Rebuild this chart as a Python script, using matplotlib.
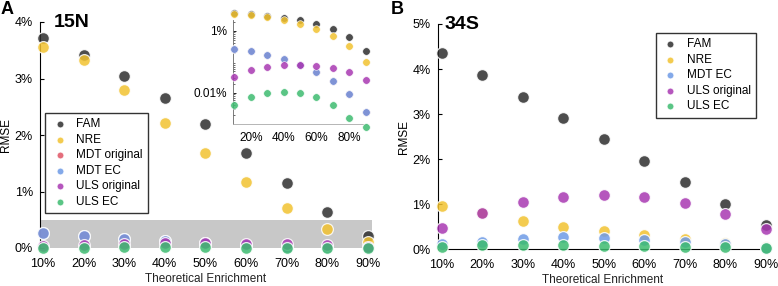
import numpy as np
import matplotlib
matplotlib.use("Agg")
import matplotlib.pyplot as plt
from matplotlib.ticker import FuncFormatter

plt.rcParams['font.family'] = ['Liberation Sans', 'DejaVu Sans']

enrich = [10, 20, 30, 40, 50, 60, 70, 80, 90]
xlabels = ['10%', '20%', '30%', '40%', '50%', '60%', '70%', '80%', '90%']

# Panel A: 15N (RMSE, %)
n_fam = [3.71, 3.42, 3.05, 2.65, 2.19, 1.68, 1.15, 0.64, 0.22]
n_nre = [3.56, 3.32, 2.79, 2.22, 1.68, 1.16, 0.70, 0.34, 0.10]
n_mdt_orig = [0.27, 0.22, 0.168, 0.122, 0.08, 0.047, 0.024, 0.0095, 0.0024]
n_mdt_ec = [0.27, 0.22, 0.168, 0.122, 0.08, 0.047, 0.024, 0.0095, 0.0024]
n_uls_orig = [0.033, 0.055, 0.071, 0.080, 0.080, 0.076, 0.064, 0.047, 0.026]
n_uls_ec = [0.0041, 0.0076, 0.0098, 0.0105, 0.0098, 0.0072, 0.0042, 0.0016, 0.0008]

# Panel B: 34S (RMSE, %)
s_fam = [4.35, 3.86, 3.39, 2.91, 2.45, 1.97, 1.49, 1.01, 0.54]
s_nre = [0.97, 0.80, 0.63, 0.50, 0.40, 0.31, 0.22, 0.13, 0.05]
s_mdt_ec = [0.12, 0.155, 0.235, 0.27, 0.25, 0.21, 0.16, 0.12, 0.03]
s_uls_orig = [0.47, 0.80, 1.04, 1.15, 1.20, 1.15, 1.02, 0.78, 0.46]
s_uls_ec = [0.06, 0.09, 0.095, 0.09, 0.08, 0.07, 0.06, 0.05, 0.02]

colors = {
    'FAM': '#2e2e2e',
    'NRE': '#f2c230',
    'MDT original': '#e05565',
    'MDT EC': '#6d9ae6',
    'ULS original': '#a838b2',
    'ULS EC': '#3dbb70',
}
ALPHA = 0.85

fig = plt.figure(figsize=(7.78, 2.86), dpi=100)

def pct(v, pos=None):
    return f"{v:.0f}%"

def style_axes(ax, ymax, xl):
    ax.spines['top'].set_visible(False)
    ax.spines['right'].set_visible(False)
    ax.set_xlim(*xl)
    ax.set_ylim(0, ymax)
    ax.set_xticks(enrich)
    ax.set_xticklabels(xlabels)
    ax.set_yticks(np.arange(0, ymax + 0.01, 1))
    ax.yaxis.set_major_formatter(FuncFormatter(pct))
    ax.tick_params(direction='in', length=3, width=0.8, labelsize=9, pad=5)
    ax.tick_params(axis='x', length=0, pad=7)
    ax.set_xlabel('Theoretical Enrichment', fontsize=8.5, labelpad=2.5, color='#222222')
    ax.set_ylabel('RMSE', fontsize=8.5, labelpad=2)

leg_kw = dict(fontsize=8.5, frameon=True, fancybox=False, edgecolor='black',
              markerscale=0.6, labelspacing=0.3, handletextpad=0.6, borderpad=0.45,
              handlelength=1.6, borderaxespad=0)

# ---------- Panel A ----------
axA = fig.add_axes([40/778, 1-248/286, 332/778, 226/286])
axA.axhspan(0, 0.5, color='#c8c8c8', zorder=0, lw=0)
seriesA = [('FAM', n_fam), ('NRE', n_nre), ('MDT original', n_mdt_orig),
           ('MDT EC', n_mdt_ec), ('ULS original', n_uls_orig), ('ULS EC', n_uls_ec)]
for name, vals in seriesA:
    axA.scatter(enrich, vals, s=72, color=colors[name], alpha=ALPHA,
                edgecolors='white', linewidths=0.9, label=name, clip_on=False, zorder=3)
style_axes(axA, 4, (9.26, 91.06))
axA.spines['bottom'].set_visible(False)
legA = axA.legend(loc='upper left', bbox_to_anchor=(5/332, 135/226), **leg_kw)
legA.get_frame().set_linewidth(1.0)
axA.text(0.04, 1.035, '15N', transform=axA.transAxes, fontsize=14, fontweight='bold',
         va='top', ha='left')

# inset (log scale)
axI = fig.add_axes([233/778, 1-124/286, 134/778, 104/286])
for name, vals in seriesA:
    axI.scatter(enrich, vals, s=30, color=colors[name], alpha=ALPHA,
                edgecolors='white', linewidths=0.5, clip_on=False, zorder=3)
axI.set_yscale('log')
axI.set_ylim(0.001, 2.26)
axI.set_xlim(9.2, 90.8)
axI.set_xticks([20, 40, 60, 80])
axI.set_xticklabels(['20%', '40%', '60%', '80%'])
axI.set_yticks([0.01, 1])
axI.set_yticklabels(['0.01%', '1%'])
axI.spines['top'].set_visible(False)
axI.spines['right'].set_visible(False)
axI.spines['left'].set_color('#666666')
axI.spines['bottom'].set_color('#aaaaaa')
axI.spines['left'].set_linewidth(0.6)
axI.spines['bottom'].set_linewidth(0.6)
axI.patch.set_alpha(0)
axI.tick_params(direction='in', length=2, width=0.6, labelsize=8.5, pad=4)
axI.tick_params(axis='x', length=0, pad=6)
axI.tick_params(which='minor', direction='in', length=1.2, width=0.4)

fig.text(1/778, 1-1/286, 'A', fontsize=13, fontweight='bold', va='top', ha='left')

# ---------- Panel B ----------
axB = fig.add_axes([437.7/778, 1-249.3/286, 330.3/778, 225.3/286])
seriesB = [('FAM', s_fam), ('NRE', s_nre), ('MDT EC', s_mdt_ec),
           ('ULS original', s_uls_orig), ('ULS EC', s_uls_ec)]
for name, vals in seriesB:
    axB.scatter(enrich, vals, s=72, color=colors[name], alpha=ALPHA,
                edgecolors='white', linewidths=0.9, label=name, clip_on=False, zorder=3)
style_axes(axB, 5, (9.0, 90.5))
legB = axB.legend(loc='upper left', bbox_to_anchor=(218/330.3, 1-9/225.3), **leg_kw)
legB.get_frame().set_linewidth(1.0)
axB.text(0.022, 1.035, '34S', transform=axB.transAxes, fontsize=14, fontweight='bold',
         va='top', ha='left')
fig.text(391/778, 1-1/286, 'B', fontsize=13, fontweight='bold', va='top', ha='left')

fig.savefig('out.png', dpi=100)
